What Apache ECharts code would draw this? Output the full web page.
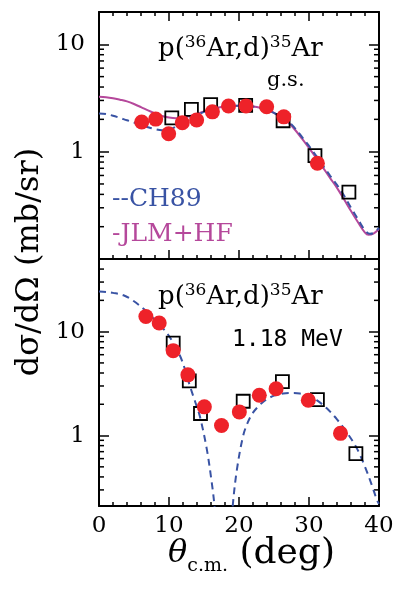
<!DOCTYPE html>
<html>
<head>
<meta charset="utf-8">
<script src="https://cdn.jsdelivr.net/npm/echarts@6/dist/echarts.min.js"></script>
<style>
  html, body { margin: 0; padding: 0; background: #fff; }
  #chart { width: 397px; height: 590px; }
</style>
</head>
<body>
<div id="chart"></div>
<script>
// ground state panel: [theta (deg), dsigma/dOmega (mb/sr)]
const gsCircles = [[6.1, 1.89], [8.1, 2.01], [9.95, 1.47], [11.9, 1.86], [13.95, 1.97], [16.2, 2.35], [18.5, 2.66], [21.0, 2.66], [23.95, 2.62], [26.4, 2.11], [31.2, 0.78]];
const gsSquares = [[10.4, 2.06], [13.2, 2.48], [15.95, 2.74], [20.95, 2.70], [26.3, 1.94], [30.85, 0.92], [35.7, 0.42]];
const gsCH89 = [[0, 2.27], [1, 2.24], [2, 2.16], [3, 2.06], [4, 1.96], [5, 1.87], [6, 1.77], [7, 1.69], [8, 1.62], [9, 1.58], [10, 1.6], [11, 1.72], [12, 1.9], [13, 2.05], [14, 2.2], [15, 2.35], [16, 2.47], [17, 2.57], [18, 2.63], [19, 2.67], [20, 2.68], [21, 2.67], [22, 2.63], [23, 2.56], [24, 2.45], [25, 2.3], [26, 2.1], [27, 1.93], [28, 1.65], [29, 1.37], [30, 1.13], [31, 0.92], [32, 0.74], [33, 0.6], [34, 0.49], [35, 0.39], [36, 0.3], [37, 0.235], [38, 0.185], [38.7, 0.172], [39.3, 0.176], [40, 0.195]];
const gsJLM = [[0, 3.25], [1, 3.22], [2, 3.15], [3, 3.05], [4, 2.94], [5, 2.78], [6, 2.6], [7, 2.42], [8, 2.27], [9, 2.15], [10, 2.08], [11, 2.05], [12, 2.08], [13, 2.15], [14, 2.25], [15, 2.37], [16, 2.48], [17, 2.57], [18, 2.63], [19, 2.67], [20, 2.68], [21, 2.67], [22, 2.63], [23, 2.56], [24, 2.45], [25, 2.3], [26, 2.08], [27, 1.88], [28, 1.6], [29, 1.32], [30, 1.08], [31, 0.88], [32, 0.71], [33, 0.57], [34, 0.46], [35, 0.36], [36, 0.28], [37, 0.22], [38, 0.176], [38.5, 0.168], [39.2, 0.172], [40, 0.19]];

// 1.18 MeV panel
const exCircles = [[6.7, 14.0], [8.6, 12.1], [10.6, 6.56], [12.7, 3.84], [15.05, 1.89], [17.5, 1.25], [20.05, 1.69], [22.9, 2.44], [25.3, 2.82], [29.9, 2.19], [34.5, 1.05]];
const exSquares = [[10.6, 7.77], [12.9, 3.36], [14.5, 1.63], [20.6, 2.14], [26.2, 3.31], [31.2, 2.22], [36.7, 0.67]];
const exCH89 = [[0, 24.3], [1, 24.1], [2, 23.6], [3.5, 22.4], [5, 19.6], [6.8, 15.6], [8, 12.9], [9, 11.0], [9.7, 9.7], [10.6, 7.8], [11.6, 5.8], [12.3, 4.3], [13, 2.98], [13.7, 2.15], [14.4, 1.54], [15.4, 0.74], [16.1, 0.356], [16.5, 0.21], [17, 0.079], [17.4, 0.02], [17.8, 0.002], [18.2, 0.02], [18.6, 0.079], [19.1, 0.21], [19.7, 0.47], [20.6, 1.0], [21.3, 1.36], [22, 1.66], [23, 1.98], [23.9, 2.22], [25, 2.42], [26.3, 2.54], [27.5, 2.57], [28.7, 2.54], [30, 2.4], [31.1, 2.19], [32.5, 1.84], [34, 1.43], [35.5, 1.05], [36.9, 0.74], [38, 0.5], [39, 0.33], [39.7, 0.24], [40, 0.22]];

const xRange = [0, 40];
const gsYRange = [0.1, 20];
const exYRange = [0.21, 50];
const gsMinor = [0.2, 0.3, 0.4, 0.5, 0.6, 0.7, 0.8, 0.9, 2, 3, 4, 5, 6, 7, 8, 9];
const exMinor = [0.3, 0.4, 0.5, 0.6, 0.7, 0.8, 0.9, 2, 3, 4, 5, 6, 7, 8, 9, 20, 30, 40];
const yLabels = [1, 10];

const serif = "'DejaVu Serif', serif";
const blue = "#3953a4";
const magenta = "#b5489b";
const red = "#ee2229";

const chart = echarts.init(document.getElementById("chart"), null, { renderer: "canvas" });

const frameLine = { show: true, onZero: false, lineStyle: { color: "#000", width: 2 } };
const tickStyle = { color: "#000", width: 1.5 };

function xAxis(gridIndex, position, labels, ticks) {
  return {
    type: "value", gridIndex, position, min: xRange[0], max: xRange[1], interval: 10,
    axisLine: frameLine,
    axisTick: { show: ticks, inside: true, length: 9, lineStyle: tickStyle },
    minorTick: { show: ticks, splitNumber: 5, length: 4, lineStyle: tickStyle },
    axisLabel: { show: labels, color: "#000", fontFamily: serif, fontSize: 23, margin: 9 },
    splitLine: { show: false }, minorSplitLine: { show: false },
  };
}

function yAxis(gridIndex, position, range, labels) {
  return {
    type: "log", logBase: 10, gridIndex, position, min: range[0], max: range[1],
    axisLine: frameLine,
    axisTick: { show: true, inside: true, length: 10, lineStyle: tickStyle },
    axisLabel: {
      show: labels, color: "#000", fontFamily: serif, fontSize: 23, margin: 14,
      formatter: v => yLabels.some(l => Math.abs(l - v) < 1e-6) ? String(Math.round(v)) : "",
    },
    splitLine: { show: false },
  };
}

function minorTicks(values, xi, yi) {
  return {
    type: "custom", xAxisIndex: xi, yAxisIndex: yi, silent: true, clip: false, z: 1,
    data: values.map(v => [xRange[0], v]),
    renderItem: (params, api) => {
      const v = api.value(1);
      const a = api.coord([xRange[0], v]);
      const b = api.coord([xRange[1], v]);
      return {
        type: "group",
        children: [
          { type: "line", shape: { x1: a[0], y1: a[1], x2: a[0] + 5, y2: a[1] }, style: { stroke: "#000", lineWidth: 1.5 } },
          { type: "line", shape: { x1: b[0] - 5, y1: b[1], x2: b[0], y2: b[1] }, style: { stroke: "#000", lineWidth: 1.5 } },
        ],
      };
    },
  };
}

function curve(data, color, dashed, xi, yi) {
  return {
    type: "line", xAxisIndex: xi, yAxisIndex: yi, data, smooth: 0.35, showSymbol: false, z: 2,
    lineStyle: { color, width: 2, type: dashed ? [7, 5] : "solid" },
  };
}

function squares(data, xi, yi) {
  return {
    type: "scatter", xAxisIndex: xi, yAxisIndex: yi, data, symbol: "rect", symbolSize: 13, z: 3,
    itemStyle: { color: "rgba(255,255,255,0)", borderColor: "#000", borderWidth: 1.8, opacity: 1 },
  };
}

function circles(data, xi, yi) {
  return {
    type: "scatter", xAxisIndex: xi, yAxisIndex: yi, data, symbol: "circle", symbolSize: 15, z: 4,
    itemStyle: { color: red, opacity: 1 },
  };
}

const titleRich = {
  m: { fontSize: 26, fontFamily: serif, lineHeight: 30, color: "#000" },
  s: { fontSize: 17, fontFamily: serif, lineHeight: 17, verticalAlign: "top", color: "#000" },
};

chart.setOption({
  animation: false,
  backgroundColor: "#fff",
  grid: [
    { left: 99, top: 12, width: 280, height: 247 },
    { left: 99, top: 259, width: 280, height: 247 },
  ],
  xAxis: [
    xAxis(0, "bottom", false, true),
    xAxis(0, "top", false, true),
    xAxis(1, "bottom", true, true),
    xAxis(1, "top", false, false),
  ],
  yAxis: [
    yAxis(0, "left", gsYRange, true),
    yAxis(0, "right", gsYRange, false),
    yAxis(1, "left", exYRange, true),
    yAxis(1, "right", exYRange, false),
  ],
  series: [
    minorTicks(gsMinor, 0, 0),
    minorTicks(exMinor, 2, 2),
    curve(gsJLM, magenta, false, 0, 0),
    curve(gsCH89, blue, true, 0, 0),
    squares(gsSquares, 0, 0),
    circles(gsCircles, 0, 0),
    curve(exCH89, blue, true, 2, 2),
    squares(exSquares, 2, 2),
    circles(exCircles, 2, 2),
  ],
  graphic: [
    { type: "text", left: 158, top: 34, style: { text: "{m|p(}{s|36}{m|Ar,d)}{s|35}{m|Ar}", rich: titleRich } },
    { type: "text", left: 267, top: 70, style: { text: "g.s.", fontSize: 21, fontFamily: serif, fill: "#000" } },
    { type: "text", left: 158, top: 282, style: { text: "{m|p(}{s|36}{m|Ar,d)}{s|35}{m|Ar}", rich: titleRich } },
    { type: "text", left: 232, top: 329, style: { text: "1.18 MeV", fontSize: 23, fontFamily: "'DejaVu Sans Mono', monospace", fill: "#000" } },
    { type: "text", left: 112, top: 187, style: { text: "--CH89", fontSize: 25, fontFamily: serif, fill: blue } },
    { type: "text", left: 112, top: 222, style: { text: "-JLM+HF", fontSize: 25, fontFamily: serif, fill: magenta } },
    {
      type: "text", x: 30, y: 262, rotation: Math.PI / 2,
      style: { text: "dσ/dΩ (mb/sr)", fontSize: 32, fontFamily: serif, fill: "#000", align: "center", verticalAlign: "middle" },
    },
    {
      type: "text", left: 168, top: 536,
      style: {
        text: "{i|θ}{b|c.m.}{m| (deg)}",
        rich: {
          i: { fontSize: 32, fontFamily: serif, fontStyle: "italic", lineHeight: 44, color: "#000" },
          b: { fontSize: 19, fontFamily: serif, lineHeight: 16, verticalAlign: "bottom", color: "#000" },
          m: { fontSize: 36, fontFamily: serif, lineHeight: 44, color: "#000" },
        },
      },
    },
  ],
});
</script>
</body>
</html>
